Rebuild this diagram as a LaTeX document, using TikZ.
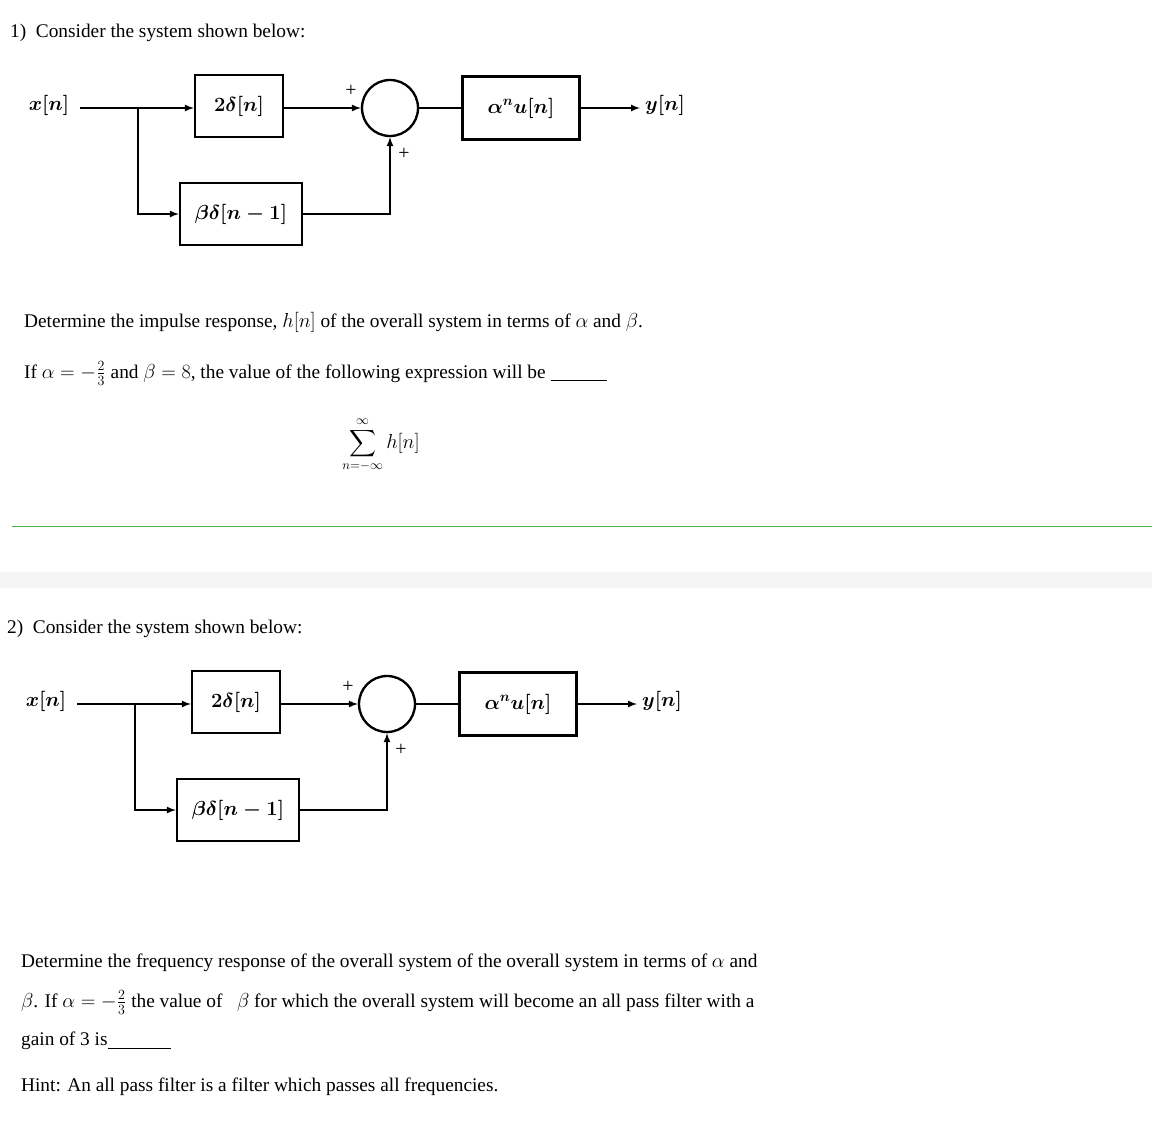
\documentclass[tikz,border=0pt]{standalone}
\usepackage{amsmath,amssymb}
\usepackage{fontspec}
\setmainfont{Liberation Serif}
\begin{document}
\begin{tikzpicture}[x=0.3mm,y=-0.3mm,
 ln/.style={line width=1.6pt},
 arr/.style={line width=1.6pt,-latex},
 bx/.style={draw,line width=2pt,font=\fontsize{17}{19}\selectfont},
 lab/.style={font=\fontsize{17}{19}\selectfont},
 txt/.style={anchor=west,font=\fontsize{16.5}{18}\selectfont}]
\useasboundingbox (0,0) rectangle (1152,1136);
\fill[gray!8] (0,572) rectangle (1152,588);
\draw[green!55!black!70,line width=0.8pt] (12,526) -- (1152,526);
\foreach \dx/\dy/\n in {0/0/1,-3/596/2}{
\begin{scope}[shift={(\dx,\dy)}]
\node[txt] (t\n) at (6,33) {\n)\ \ Consider the system shown below:};
\node[lab] (x\n) at (49,105) {$\boldsymbol{x[n]}$};
\node[bx,minimum width=26.4mm,minimum height=18.6mm] (a\n) at (239,106) {$\boldsymbol{2\delta[n]}$};
\node[bx,minimum width=36.6mm,minimum height=18.6mm] (b\n) at (241,214) {$\boldsymbol{\beta\delta[n-1]}$};
\node[draw,circle,line width=2pt,minimum size=16.8mm,inner sep=0] (s\n) at (390,108) {};
\node[bx,minimum width=35.1mm,minimum height=18.9mm] (c\n) at (521,108) {$\boldsymbol{\alpha^n u[n]}$};
\node[lab] (y\n) at (665,105) {$\boldsymbol{y[n]}$};
\coordinate (j\n) at (138,108);
\draw[ln] (80,108) -- (j\n);
\draw[arr] (j\n) -- (a\n.west|-j\n);
\draw[arr] (j\n) |- (b\n.west);
\draw[arr] (a\n.east|-s\n) -- (s\n.west);
\draw[arr] (b\n.east) -| (s\n.south);
\draw[ln] (s\n.east) -- (c\n.west);
\draw[arr] (c\n.east) -- (640,108);
\node[lab] at (351,91) {+};
\node[lab] at (404,154) {+};
\end{scope}}
\node[txt] at (20,322) {Determine the impulse response, $h[n]$ of the overall system in terms of $\alpha$ and $\beta$.};
\node[txt] at (20,373) {If $\alpha=-\tfrac{2}{3}$ and $\beta=8$, the value of the following expression will be \rule[-2pt]{17mm}{0.4pt}};
\node[font=\fontsize{16}{18}\selectfont] at (381,445) {$\displaystyle\sum_{n=-\infty}^{\infty} h[n]$};
\node[txt] at (17,963) {Determine the frequency response of the overall system of the overall system in terms of $\alpha$ and};
\node[txt] at (17,1002) {$\beta$. If $\alpha=-\tfrac{2}{3}$ the value of \ \ $\beta$ for which the overall system will become an all pass filter with a};
\node[txt] at (17,1041) {gain of 3 is\rule[-2pt]{19mm}{0.4pt}};
\node[txt] at (17,1087) {Hint: An all pass filter is a filter which passes all frequencies.};
\end{tikzpicture}
\end{document}
